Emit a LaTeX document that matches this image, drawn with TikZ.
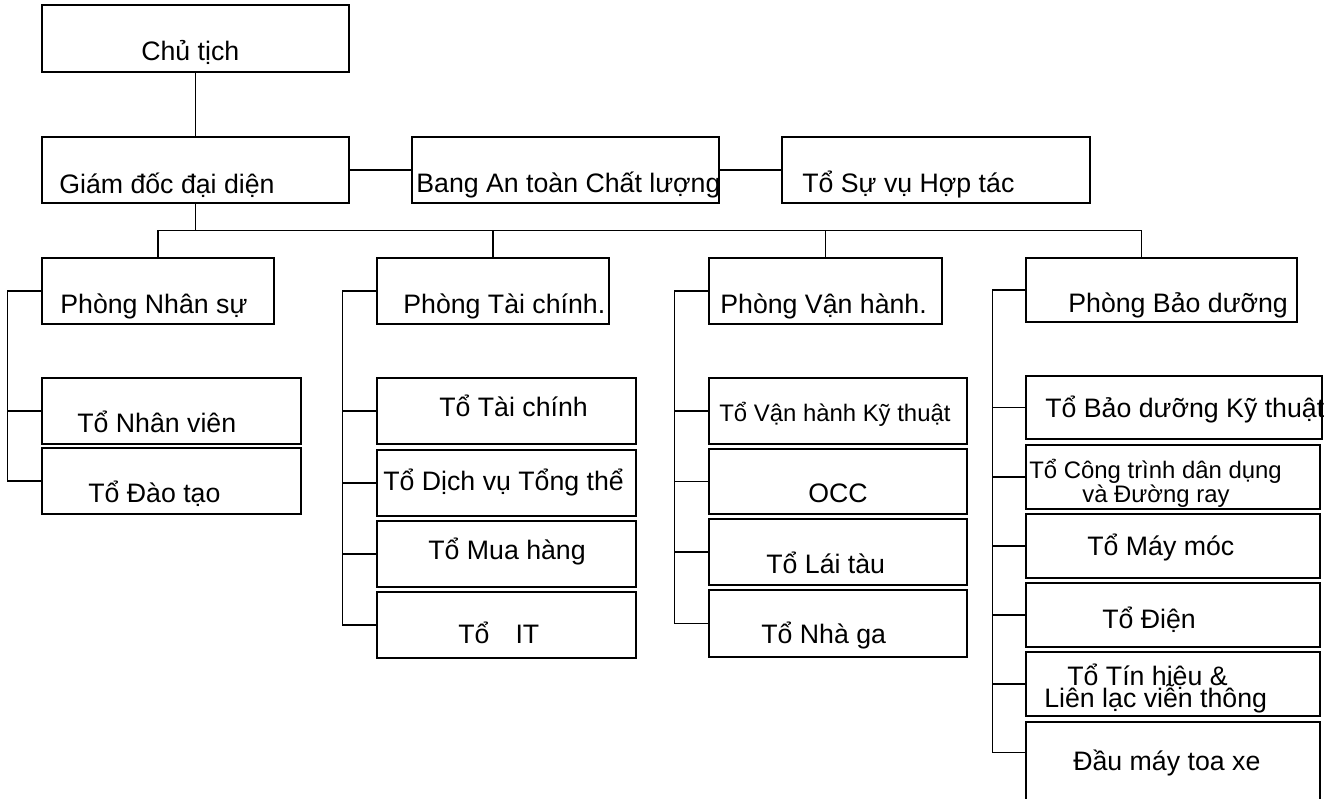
\documentclass[tikz,border=0pt]{standalone}
\usepackage{fontspec}
\setmainfont{Liberation Sans}
\usetikzlibrary{fit,calc}
\definecolor{LineClr}{rgb}{0,0,0}

\begin{document}
\begin{tikzpicture}[x=0.02cm,y=-0.02cm,
  box/.style={draw=LineClr,line width=0.6pt,inner sep=0pt},
  link/.style={draw=LineClr,line width=0.6pt},
  lbl/.style={anchor=base west,inner sep=0pt,font=\fontsize{15.2}{17}\selectfont},
  slbl/.style={anchor=base west,inner sep=0pt,font=\fontsize{13.6}{15}\selectfont}]
\useasboundingbox (0,0) rectangle (1341,798);

\node[box,fit={(42,5) (349,72)}] (CT) {};
\node[box,fit={(42,137) (349,203)}] (GD) {};
\node[box,fit={(412,137) (719,203)}] (BAT) {};
\node[box,fit={(782,137) (1090,203)}] (SVHT) {};

\node[box,fit={(42,258) (274,324)}] (PNS) {};
\node[box,fit={(377,258) (609,324)}] (PTC) {};
\node[box,fit={(709,258) (942,324)}] (PVH) {};
\node[box,fit={(1026,258) (1297,322)}] (PBD) {};

\node[box,fit={(42,378) (301,444)}] (TNV) {};
\node[box,fit={(42,448) (301,514)}] (TDT) {};

\node[box,fit={(377,378) (636,444)}] (TTC) {};
\node[box,fit={(377,450) (636,516)}] (TDV) {};
\node[box,fit={(377,521) (636,587)}] (TMH) {};
\node[box,fit={(377,592) (636,658)}] (TIT) {};

\node[box,fit={(709,378) (967,444)}] (TVH) {};
\node[box,fit={(709,449) (967,514)}] (OCC) {};
\node[box,fit={(709,519) (967,585)}] (TLT) {};
\node[box,fit={(709,590) (967,657)}] (TNG) {};

\node[box,fit={(1026,376) (1322,439)}] (TBD) {};
\node[box,fit={(1026,445) (1320,509)}] (TCT) {};
\node[box,fit={(1026,514) (1320,578)}] (TMM) {};
\node[box,fit={(1026,583) (1320,647)}] (TDN) {};
\node[box,fit={(1026,652) (1320,716)}] (TTH) {};
\node[box,fit={(1026,722) (1320,810)}] (DM) {};

\node[lbl] (CTt) at (141,60) {Chủ tịch};
\node[lbl] (GDt) at (59,193) {Giám đốc đại diện};
\node[lbl] (BATt) at (416,192) {Bang An toàn Chất lượng};
\node[lbl] (SVHTt) at (802,192) {Tổ Sự vụ Hợp tác};

\node[lbl] (PNSt) at (60,313) {Phòng Nhân sự};
\node[lbl] (PTCt) at (403,313) {Phòng Tài chính.};
\node[lbl] (PVHt) at (720,313) {Phòng Vận hành.};
\node[lbl] (PBDt) at (1068,312) {Phòng Bảo dưỡng};

\node[lbl] (TNVt) at (77,432) {Tổ Nhân viên};
\node[lbl] (TDTt) at (88,502) {Tổ Đào tạo};

\node[lbl] (TTCt) at (439,416) {Tổ Tài chính};
\node[lbl] (TDVt) at (383,490) {Tổ Dịch vụ Tổng thể};
\node[lbl] (TMHt) at (428,559) {Tổ Mua hàng};
\node[lbl] (TITt) at (458,643) {Tổ\hspace{0.52cm}IT};

\node[slbl] (TVHt) at (719,421) {Tổ Vận hành Kỹ thuật};
\node[lbl] (OCCt) at (808,502) {OCC};
\node[lbl] (TLTt) at (766,573) {Tổ Lái tàu};
\node[lbl] (TNGt) at (761,643) {Tổ Nhà ga};

\node[lbl] (TBDt) at (1045,417) {Tổ Bảo dưỡng Kỹ thuật};
\node[slbl] (TCTt) at (1029,478) {Tổ Công trình dân dụng};
\node[slbl] (TCTu) at (1082,502) {và Đường ray};
\node[lbl] (TMMt) at (1087,555) {Tổ Máy móc};
\node[lbl] (TDNt) at (1102,628) {Tổ Điện};
\node[lbl] (TTHt) at (1067,685) {Tổ Tín hiệu \&};
\node[lbl] (TTHu) at (1044,707) {Liên lạc viễn thông};
\node[lbl] (DMt) at (1073,770) {Đầu máy toa xe};

\draw[link] (CT.south) -- (GD.north);
\draw[link] (GD.east) -- (BAT.west);
\draw[link] (BAT.east) -- (SVHT.west);

\draw[link] (GD.south) -- ++(0,27) coordinate (bus);
\draw[link] (PNS.north) |- (bus);
\draw[link] (bus) -| ($(PBD.north west)+(116,0)$);
\draw[link] (PTC.north) -- (PTC.north |- bus);
\draw[link] (PVH.north) -- (PVH.north |- bus);

\draw[link] (PNS.west) -- ++(-34,0) coordinate (ns) |- (TDT.west);
\draw[link] (ns |- TNV.west) -- (TNV.west);

\draw[link] (PTC.west) -- ++(-34,0) coordinate (tc) |- (TIT.west);
\draw[link] (tc |- TTC.west) -- (TTC.west);
\draw[link] (tc |- TDV.west) -- (TDV.west);
\draw[link] (tc |- TMH.west) -- (TMH.west);

\draw[link] (PVH.west) -- ++(-34,0) coordinate (vh) |- (TNG.west);
\draw[link] (vh |- TVH.west) -- (TVH.west);
\draw[link] (vh |- OCC.west) -- (OCC.west);
\draw[link] (vh |- TLT.west) -- (TLT.west);

\draw[link] (PBD.west) -- ++(-33,0) coordinate (bd) |- ($(DM.north west)+(0,31)$);
\draw[link] (bd |- TBD.west) -- (TBD.west);
\draw[link] (bd |- TCT.west) -- (TCT.west);
\draw[link] (bd |- TMM.west) -- (TMM.west);
\draw[link] (bd |- TDN.west) -- (TDN.west);
\draw[link] (bd |- TTH.west) -- (TTH.west);
\end{tikzpicture}
\end{document}
